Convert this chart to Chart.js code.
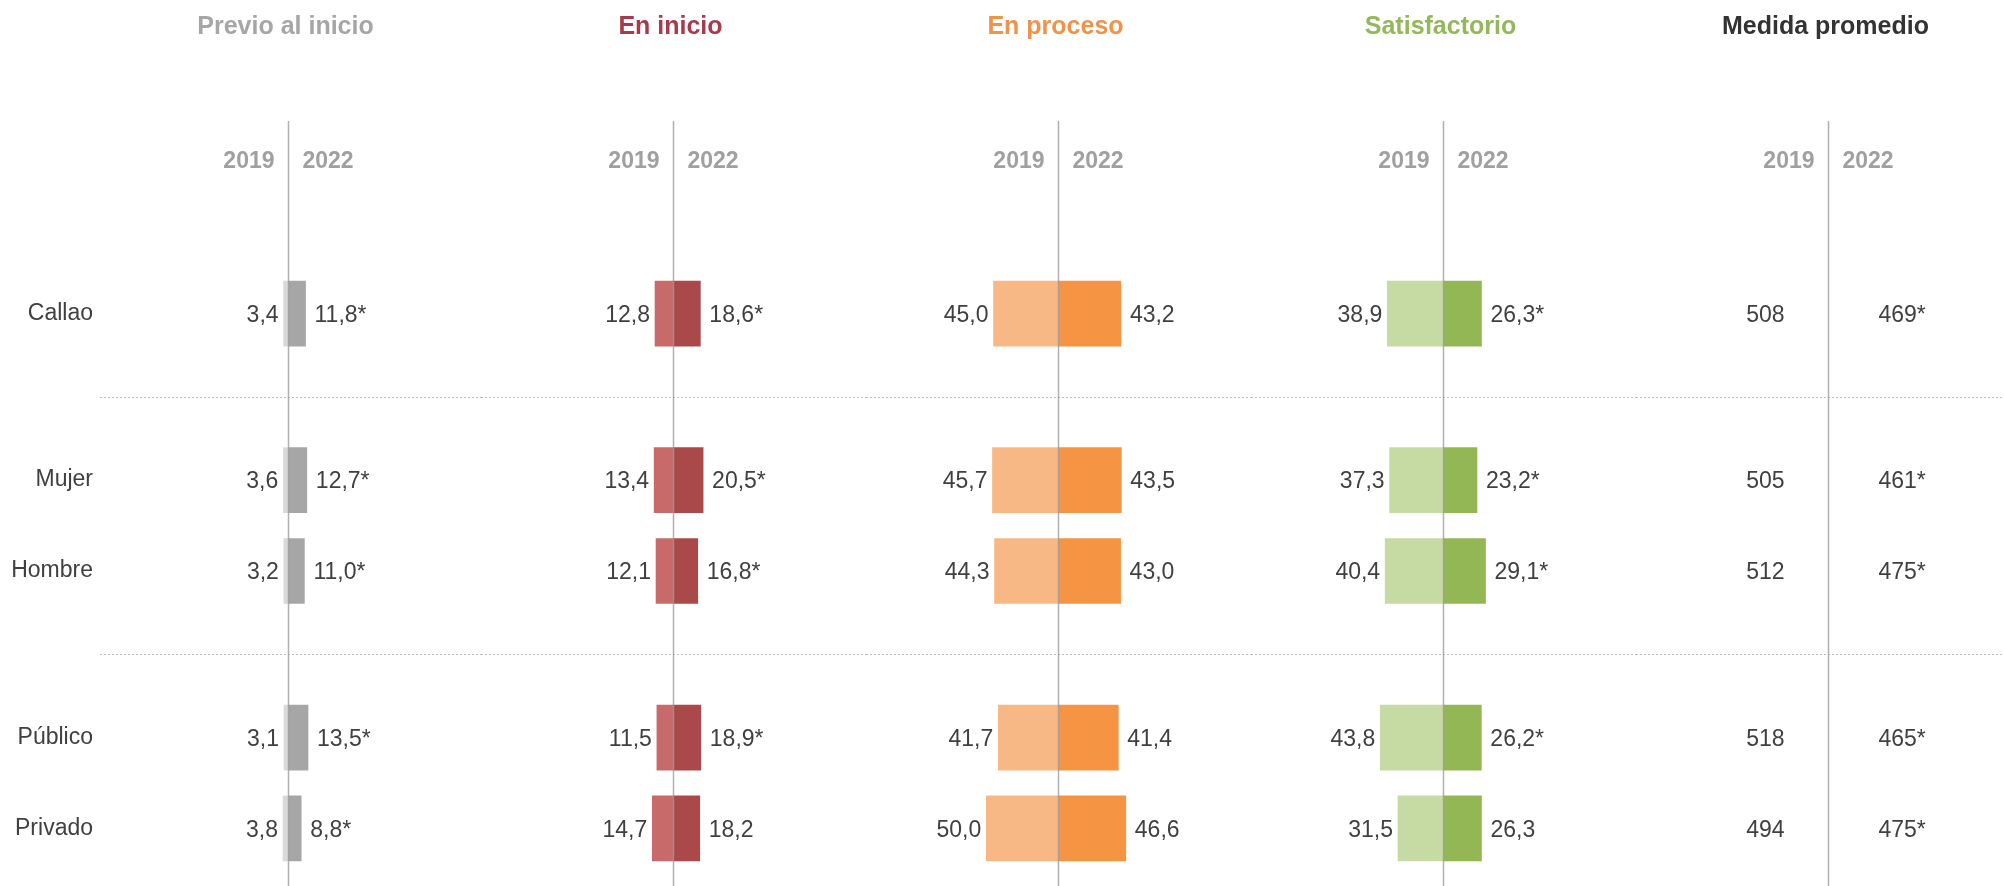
<!DOCTYPE html>
<html>
<head>
<meta charset="utf-8">
<script src="https://cdn.jsdelivr.net/npm/chart.js@4"></script>
<style>
  html, body { margin: 0; padding: 0; background: #fff; overflow: hidden; }
  #wrap { position: relative; width: 2004px; height: 886px; }
  #wrap canvas { position: absolute; top: 0; }
</style>
</head>
<body>
<div id="wrap"></div>
<script>
// rows and groups (Callao | sexo | gestión)
const rows = ['Callao', 'Mujer', 'Hombre', 'Público', 'Privado'];
const groupSizes = [1, 2, 2];
const years = ['2019', '2022'];

const previo2019 = [3.4, 3.6, 3.2, 3.1, 3.8];
const previo2022 = [11.8, 12.7, 11.0, 13.5, 8.8];
const previoSig = [true, true, true, true, true];

const inicio2019 = [12.8, 13.4, 12.1, 11.5, 14.7];
const inicio2022 = [18.6, 20.5, 16.8, 18.9, 18.2];
const inicioSig = [true, true, true, true, false];

const proceso2019 = [45.0, 45.7, 44.3, 41.7, 50.0];
const proceso2022 = [43.2, 43.5, 43.0, 41.4, 46.6];
const procesoSig = [false, false, false, false, false];

const satis2019 = [38.9, 37.3, 40.4, 43.8, 31.5];
const satis2022 = [26.3, 23.2, 29.1, 26.2, 26.3];
const satisSig = [true, true, true, true, false];

const medida2019 = [508, 505, 512, 518, 494];
const medida2022 = [469, 461, 475, 465, 475];
const medidaSig = [true, true, true, true, true];

const panels = [
  { title: 'Previo al inicio', titleColor: '#a6a6a6', colors: ['#d9d9d9', '#a6a6a6'], a: previo2019, b: previo2022, sig: previoSig },
  { title: 'En inicio', titleColor: '#a83a4b', colors: ['#c86a6a', '#a94949'], a: inicio2019, b: inicio2022, sig: inicioSig },
  { title: 'En proceso', titleColor: '#f0924a', colors: ['#f8b886', '#f59443'], a: proceso2019, b: proceso2022, sig: procesoSig },
  { title: 'Satisfactorio', titleColor: '#93b85a', colors: ['#c6daa3', '#94b755'], a: satis2019, b: satis2022, sig: satisSig },
  { title: 'Medida promedio', titleColor: '#333333', colors: ['rgba(0,0,0,0)', 'rgba(0,0,0,0)'], a: medida2019, b: medida2022, sig: medidaSig, fixed: true }
];

// category slots: rows in a group are 6 slots apart, groups 11 slots apart
const ROW_STEP = 6, GROUP_STEP = 11;
const slotOf = [];
let pos = 0;
groupSizes.forEach((n, g) => {
  if (g > 0) pos += GROUP_STEP - ROW_STEP;
  for (let i = 0; i < n; i++) { slotOf.push(pos); pos += ROW_STEP; }
});
const nSlots = slotOf[slotOf.length - 1] + 1;
const slotLabels = new Array(nSlots).fill('');
slotOf.forEach((s, i) => { slotLabels[s] = rows[i]; });

function toSlots(arr, sign) {
  const out = new Array(nSlots).fill(null);
  slotOf.forEach((s, i) => { out[s] = sign * arr[i]; });
  return out;
}

const FONT = "'Liberation Sans', Arial, sans-serif";

function fmt(v, fixed) {
  return fixed ? String(v) : v.toFixed(1).replace('.', ',');
}

const decor = {
  id: 'decor',
  beforeDatasetsDraw(chart, args, o) {
    const { ctx, scales: { x, y } } = chart;
    const zero = x.getPixelForValue(0);
    ctx.save();
    // dotted separators between groups
    ctx.strokeStyle = '#bdbdbd';
    ctx.lineWidth = 1;
    ctx.setLineDash([2, 2]);
    let idx = 0;
    groupSizes.forEach((n, g) => {
      if (g > 0) {
        const yy = Math.round((y.getPixelForValue(slotOf[idx - 1]) + y.getPixelForValue(slotOf[idx])) / 2) + 0.5;
        ctx.beginPath();
        ctx.moveTo(o.sepStart, yy);
        ctx.lineTo(chart.width, yy);
        ctx.stroke();
      }
      idx += n;
    });
    ctx.setLineDash([]);
    // title
    ctx.fillStyle = o.titleColor;
    ctx.font = 'bold 25px ' + FONT;
    ctx.textAlign = 'center';
    ctx.textBaseline = 'alphabetic';
    ctx.fillText(o.title, zero - 3, 34);
    // years
    ctx.fillStyle = '#a0a0a0';
    ctx.font = 'bold 23px ' + FONT;
    ctx.textAlign = 'right';
    ctx.fillText(years[0], zero - 14, 168);
    ctx.textAlign = 'left';
    ctx.fillText(years[1], zero + 14, 168);
    ctx.restore();
  },
  afterDatasetsDraw(chart, args, o) {
    const { ctx, scales: { x, y } } = chart;
    const zero = x.getPixelForValue(0);
    ctx.save();
    // center axis line
    ctx.strokeStyle = 'rgba(150,150,150,0.75)';
    ctx.lineWidth = 1.5;
    ctx.beginPath();
    ctx.moveTo(zero, 121);
    ctx.lineTo(zero, chart.height);
    ctx.stroke();
    // value labels
    ctx.fillStyle = '#404040';
    ctx.font = '23px ' + FONT;
    ctx.textBaseline = 'alphabetic';
    slotOf.forEach((s, i) => {
      const cy = y.getPixelForValue(s) + 8.3;
      const va = o.a[i], vb = o.b[i];
      ctx.textAlign = 'right';
      const xa = o.fixed ? zero - 44 : x.getPixelForValue(-va) - 5;
      ctx.fillText(fmt(va, o.fixed), xa, cy);
      ctx.textAlign = 'left';
      const xb = o.fixed ? zero + 50 : x.getPixelForValue(vb) + 9;
      ctx.fillText(fmt(vb, o.fixed) + (o.sig[i] ? '*' : ''), xb, cy);
    });
    ctx.restore();
  }
};

const wrap = document.getElementById('wrap');
panels.forEach((p, k) => {
  const left = k === 0 ? 0 : 96 + 385 * k;
  const width = k === 0 ? 481 : 385;
  const canvas = document.createElement('canvas');
  canvas.width = width;
  canvas.height = 886;
  canvas.style.left = left + 'px';
  canvas.style.width = width + 'px';
  canvas.style.height = '886px';
  wrap.appendChild(canvas);

  const yScale = {
    stacked: true,
    display: k === 0,
    grid: { display: false, drawTicks: false },
    border: { display: false },
    ticks: {
      autoSkip: false,
      color: '#404040',
      padding: 3,
      font: { family: FONT, size: 23 }
    }
  };
  if (k === 0) yScale.afterFit = s => { s.width = 96; };

  new Chart(canvas.getContext('2d'), {
    type: 'bar',
    data: {
      labels: slotLabels,
      datasets: [
        { label: years[0], data: toSlots(p.a, -1), backgroundColor: p.colors[0], barThickness: 65, clip: false },
        { label: years[1], data: toSlots(p.b, 1), backgroundColor: p.colors[1], barThickness: 65, clip: false }
      ]
    },
    options: {
      indexAxis: 'y',
      responsive: false,
      animation: false,
      devicePixelRatio: 1,
      layout: { padding: { top: 306, bottom: 50, left: 0, right: 0 } },
      scales: {
        x: { stacked: true, display: false, min: -133.3, max: 133.3 },
        y: yScale
      },
      plugins: {
        legend: { display: false },
        tooltip: { enabled: false },
        decor: {
          title: p.title, titleColor: p.titleColor,
          a: p.a, b: p.b, sig: p.sig, fixed: !!p.fixed,
          sepStart: k === 0 ? 100 : 0
        }
      }
    },
    plugins: [decor]
  });
});
</script>
</body>
</html>
